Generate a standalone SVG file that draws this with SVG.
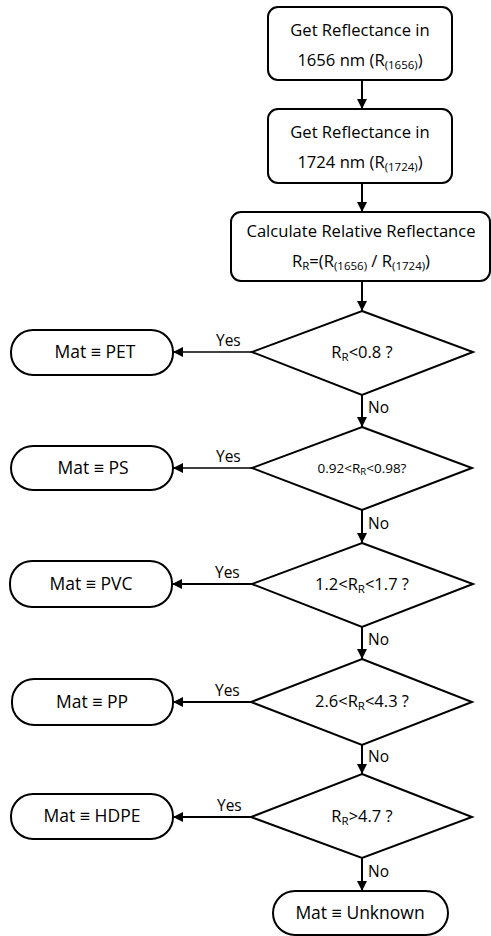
<svg xmlns="http://www.w3.org/2000/svg" width="491" height="936" viewBox="0 0 491 936">
<style>
.box{fill:#fff;stroke:#000;stroke-width:2}
.t{font-family:"Open Sans","Liberation Sans",sans-serif;font-size:16.6px;fill:#000;text-anchor:middle}
.m{font-size:17.5px}
.d{font-size:16.5px}
.s{font-size:11.5px}
.lbl{font-family:"Open Sans","Liberation Sans",sans-serif;font-size:15.5px;fill:#000}
.c{stroke:#000;stroke-width:2;fill:none;marker-end:url(#ah)}
</style>
<defs>
<marker id="ah" markerUnits="userSpaceOnUse" markerWidth="10" markerHeight="10" refX="10" refY="5" orient="auto">
<path d="M0,0 L10,5 L0,10 z" fill="#000"/>
</marker>
</defs>
<g id="connectors">
<line class="c" x1="362" y1="80" x2="362" y2="109"/>
<line class="c" x1="362" y1="183" x2="362" y2="212"/>
<line class="c" x1="362" y1="281" x2="362" y2="311"/>
<line class="c" x1="362" y1="395" x2="362" y2="427"/>
<line class="c" x1="362" y1="510" x2="362" y2="543"/>
<line class="c" x1="362" y1="627" x2="362" y2="659"/>
<line class="c" x1="362" y1="745" x2="362" y2="774"/>
<line class="c" x1="362" y1="858" x2="362" y2="891"/>
<line class="c" style="stroke-width:1.4" x1="252" y1="352" x2="173" y2="352"/>
<line class="c" style="stroke-width:1.4" x1="252" y1="468" x2="173" y2="468"/>
<line class="c" x1="252" y1="584" x2="172" y2="584"/>
<line class="c" x1="252" y1="702" x2="173" y2="702"/>
<line class="c" x1="251" y1="817" x2="173" y2="817"/>
<text class="lbl" x="216" y="346">Yes</text>
<text class="lbl" x="216" y="462">Yes</text>
<text class="lbl" x="215" y="578">Yes</text>
<text class="lbl" x="215" y="696">Yes</text>
<text class="lbl" x="217" y="811">Yes</text>
<text class="lbl" x="368" y="413">No</text>
<text class="lbl" x="368" y="529">No</text>
<text class="lbl" x="368" y="645">No</text>
<text class="lbl" x="368" y="762">No</text>
<text class="lbl" x="368" y="877">No</text>
</g>
<g id="n1">
<rect class="box" x="268" y="7" width="184" height="73" rx="10"/>
<text class="t" x="360" y="36">Get Reflectance in</text>
<text class="t" x="360" y="66">1656 nm (R<tspan class="s" dy="3">(1656)</tspan><tspan dy="-3">)</tspan></text>
</g>
<g id="n2">
<rect class="box" x="268" y="109" width="184" height="74" rx="10"/>
<text class="t" x="360" y="138">Get Reflectance in</text>
<text class="t" x="360" y="168">1724 nm (R<tspan class="s" dy="3">(1724)</tspan><tspan dy="-3">)</tspan></text>
</g>
<g id="n3">
<rect class="box" x="231" y="212" width="259" height="69" rx="10"/>
<text class="t" x="361" y="237">Calculate Relative Reflectance</text>
<text class="t" x="361" y="267">R<tspan class="s" dy="3">R</tspan><tspan dy="-3">=(R</tspan><tspan class="s" dy="3">(1656)</tspan><tspan dy="-3"> / R</tspan><tspan class="s" dy="3">(1724)</tspan><tspan dy="-3">)</tspan></text>
</g>
<g id="d1">
<polygon class="box" points="362,311 473,352 362,395 252,352"/>
<text class="t d" x="362" y="358">R<tspan class="s" dy="3">R</tspan><tspan dy="-3">&lt;0.8 ?</tspan></text>
</g>
<g id="d2">
<polygon class="box" points="362,427 472,468 362,510 252,468"/>
<text class="t" style="font-size:13.5px" x="362" y="473">0.92&lt;R<tspan class="s" style="font-size:9.5px" dy="2">R</tspan><tspan dy="-2">&lt;0.98?</tspan></text>
</g>
<g id="d3">
<polygon class="box" points="362,543 473,584 362,627 252,584"/>
<text class="t d" x="362" y="590">1.2&lt;R<tspan class="s" dy="3">R</tspan><tspan dy="-3">&lt;1.7 ?</tspan></text>
</g>
<g id="d4">
<polygon class="box" points="362,659 472,702 362,745 251,702"/>
<text class="t d" x="362" y="707">2.6&lt;R<tspan class="s" dy="3">R</tspan><tspan dy="-3">&lt;4.3 ?</tspan></text>
</g>
<g id="d5">
<polygon class="box" points="362,774 472,817 362,858 251,817"/>
<text class="t d" x="362" y="822">R<tspan class="s" dy="3">R</tspan><tspan dy="-3">&gt;4.7 ?</tspan></text>
</g>
<g id="pet">
<rect class="box" x="11" y="330" width="162" height="45" rx="22"/>
<text class="t m" x="95" y="358">Mat ≡ PET</text>
</g>
<g id="ps">
<rect class="box" x="11" y="446" width="162" height="44" rx="22"/>
<text class="t m" x="93" y="474">Mat ≡ PS</text>
</g>
<g id="pvc">
<rect class="box" x="10" y="561" width="162" height="46" rx="22"/>
<text class="t m" x="91" y="590">Mat ≡ PVC</text>
</g>
<g id="pp">
<rect class="box" x="12" y="679" width="161" height="46" rx="22"/>
<text class="t m" x="92" y="708">Mat ≡ PP</text>
</g>
<g id="hdpe">
<rect class="box" x="11" y="794" width="162" height="45" rx="22"/>
<text class="t m" x="92" y="822">Mat ≡ HDPE</text>
</g>
<g id="unknown">
<rect class="box" x="273" y="891" width="175" height="44" rx="22"/>
<text class="t m" x="360" y="919">Mat ≡ Unknown</text>
</g>
</svg>
